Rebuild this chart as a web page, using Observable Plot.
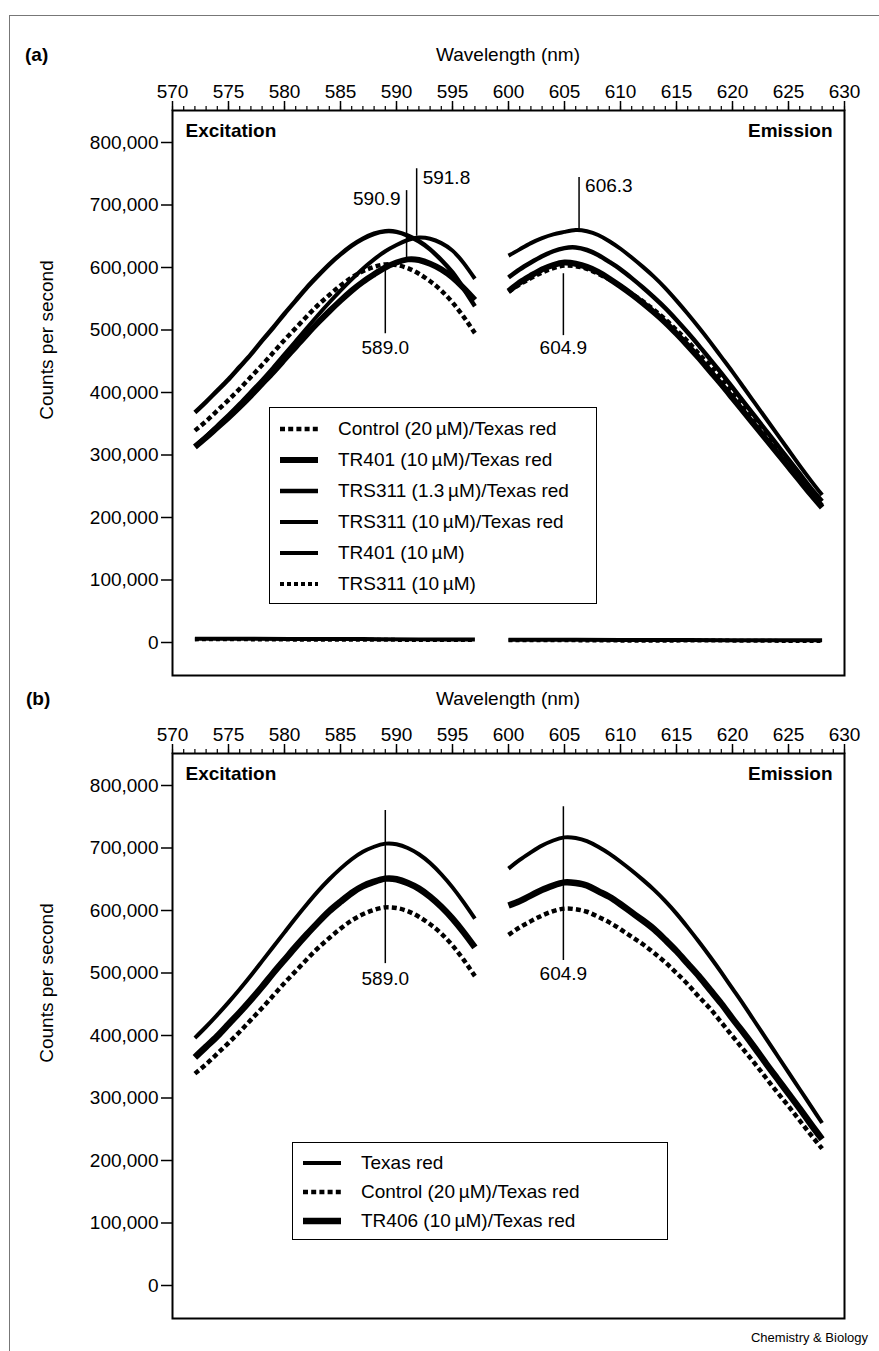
<!DOCTYPE html>
<html><head><meta charset="utf-8">
<script src="https://cdn.jsdelivr.net/npm/d3@7"></script>
<script src="https://cdn.jsdelivr.net/npm/@observablehq/plot@0.6"></script>
<style>
body{margin:0;background:#fff;font-family:"Liberation Sans",Arial,Helvetica,sans-serif;color:#000;}
#fig{position:relative;width:879px;height:1351px;overflow:hidden;background:#fff;}
.plabel{font-weight:bold;font-size:19px;}
.wl{font-size:19px;width:300px;text-align:center;}
.ylab{font-size:19px;white-space:nowrap;transform:translate(-50%,-50%) rotate(-90deg);}
.legend{border:1.5px solid #000;background:#fff;box-sizing:border-box;font-size:19px;}
.legend .row{position:absolute;left:0;display:flex;align-items:center;white-space:nowrap;}
.caption{font-size:13px;}
.border{border-top:1px solid #777;border-left:1px solid #777;}
</style></head>
<body><div id="fig"></div>
<script>
// ---------- data ----------
const xTicks = [570, 575, 580, 585, 590, 595, 600, 605, 610, 615, 620, 625, 630];
const xMinorTicks = [570,571,572,573,574,575,576,577,578,579,580,581,582,583,584,585,586,587,588,589,590,591,592,593,594,595,596,597,598,599,600,601,602,603,604,605,606,607,608,609,610,611,612,613,614,615,616,617,618,619,620,621,622,623,624,625,626,627,628,629,630];
const yTicks = [0, 100000, 200000, 300000, 400000, 500000, 600000, 700000, 800000];

const exWl = [572,573,574,575,576,577,578,579,580,581,582,583,584,585,586,587,588,589,590,591,592,593,594,595,596,597];
const emWl = [600,601,602,603,604,605,606,607,608,609,610,611,612,613,614,615,616,617,618,619,620,621,622,623,624,625,626,627,628];

// Control (20 uM)/Texas red — same sample in both panels
const controlEx = [339000,354000,371000,388000,406000,425000,444000,464000,484000,503000,522000,540000,556000,571000,584000,594000,601000,605000,604000,599000,590000,578000,563000,544000,521000,495000];
const controlEm = [561000,573000,583000,592000,599000,603000,602000,598000,590000,581000,570000,558000,546000,532000,517000,500000,482000,462000,443000,421000,399000,377000,355000,332000,309000,287000,264000,241000,219000];

// Panel (a)
const tr401trEx = [313000,328000,344000,360000,377000,395000,414000,433000,453000,473000,493000,512000,530000,547000,563000,577000,589000,600000,608000,613000,612000,606000,597000,584000,567000,548000];
const tr401trEm = [562000,576000,587000,597000,604000,608000,606000,601000,593000,582000,570000,557000,543000,528000,512000,494000,475000,455000,434000,413000,391000,369000,347000,325000,303000,281000,259000,237000,216000];
const trs13Ex = [368000,385000,403000,421000,441000,461000,483000,504000,526000,547000,568000,587000,605000,621000,635000,646000,654000,658000,657000,651000,642000,629000,612000,592000,566000,538000];
const trs13Em = [584000,597000,608000,618000,626000,631000,632000,628000,620000,609000,597000,583000,568000,552000,535000,516000,496000,475000,453000,431000,408000,385000,362000,339000,316000,293000,270000,247000,226000];
const trs10Ex = [314000,330000,347000,364000,382000,401000,420000,440000,461000,482000,503000,524000,544000,563000,581000,598000,613000,626000,636000,644000,648000,646000,639000,627000,607000,582000];
const trs10Em = [619000,629000,639000,647000,653000,657000,660000,658000,652000,642000,630000,616000,601000,585000,567000,547000,526000,504000,481000,457000,433000,408000,383000,358000,333000,308000,283000,259000,236000];
const flatExWl = [572, 577, 582, 587, 592, 597];
const flatEmWl = [600, 605, 610, 615, 620, 625, 628];
const tr401Ex = [6000, 6000, 5500, 5500, 5000, 5000];
const tr401Em = [4500, 4500, 4000, 4000, 3500, 3500, 3500];
const trs311Ex = [5000, 5000, 4500, 4500, 4000, 4000];
const trs311Em = [3500, 3500, 3000, 3000, 3000, 2500, 2500];

// Panel (b)
const texasRedEx = [396000,414000,433000,453000,474000,496000,519000,542000,565000,588000,610000,631000,650000,667000,682000,694000,702000,707000,706000,700000,690000,676000,658000,637000,613000,587000];
const texasRedEm = [667000,681000,693000,704000,712000,717000,716000,711000,702000,691000,678000,664000,649000,633000,615000,595000,573000,550000,526000,501000,475000,449000,422000,395000,368000,341000,314000,287000,260000];
const tr406Ex = [365000,382000,399000,418000,437000,457000,478000,500000,521000,542000,562000,581000,599000,614000,628000,639000,646000,651000,650000,644000,635000,622000,606000,587000,565000,541000];
const tr406Em = [608000,615000,624000,633000,640000,645000,644000,640000,631000,622000,610000,597000,584000,570000,553000,535000,515000,495000,473000,451000,427000,404000,380000,355000,331000,307000,283000,258000,234000];

// peak annotations
const annotA = [
  {x: 591.8, y1: 650000, y2: 758000, label: "591.8", ly: 744000, pos: "right"},
  {x: 590.9, y1: 613000, y2: 723000, label: "590.9", ly: 709000, pos: "left"},
  {x: 589.0, y1: 494000, y2: 597000, label: "589.0", ly: 472000, pos: "below"},
  {x: 606.3, y1: 660000, y2: 744000, label: "606.3", ly: 730000, pos: "right"},
  {x: 604.9, y1: 491000, y2: 590000, label: "604.9", ly: 472000, pos: "below"}
];
const annotB = [
  {x: 589.0, y1: 515000, y2: 760000, label: "589.0", ly: 491000, pos: "below"},
  {x: 604.9, y1: 520000, y2: 766000, label: "604.9", ly: 498000, pos: "below"}
];

// legend entries
const legendA = [
  {key: "control", text: "Control (20\u2009\u00b5M)/Texas red"},
  {key: "tr401tr", text: "TR401 (10\u2009\u00b5M)/Texas red"},
  {key: "trs13", text: "TRS311 (1.3\u2009\u00b5M)/Texas red"},
  {key: "trs10", text: "TRS311 (10\u2009\u00b5M)/Texas red"},
  {key: "tr401", text: "TR401 (10\u2009\u00b5M)"},
  {key: "trs311", text: "TRS311 (10\u2009\u00b5M)"}
];
const legendB = [
  {key: "texasRed", text: "Texas red"},
  {key: "control", text: "Control (20\u2009\u00b5M)/Texas red"},
  {key: "tr406", text: "TR406 (10\u2009\u00b5M)/Texas red"}
];

// ---------- styles ----------
const styles = {
  control: {w: 4.5, dash: "5,3.2"},
  tr401tr: {w: 6},
  trs13: {w: 4.5},
  trs10: {w: 4},
  tr401: {w: 4},
  trs311: {w: 4, dash: "4,3"},
  texasRed: {w: 4},
  tr406: {w: 6.5}
};

function rows(key, wl, vals, seg) { return wl.map((w, i) => ({key, seg, wl: w, v: vals[i]})); }

const seriesA = [
  ["tr401", flatExWl, tr401Ex, flatEmWl, tr401Em],
  ["trs311", flatExWl, trs311Ex, flatEmWl, trs311Em],
  ["tr401tr", exWl, tr401trEx, emWl, tr401trEm],
  ["trs13", exWl, trs13Ex, emWl, trs13Em],
  ["trs10", exWl, trs10Ex, emWl, trs10Em],
  ["control", exWl, controlEx, emWl, controlEm]
];
const seriesB = [
  ["texasRed", exWl, texasRedEx, emWl, texasRedEm],
  ["tr406", exWl, tr406Ex, emWl, tr406Em],
  ["control", exWl, controlEx, emWl, controlEm]
];

function panel(series, annots) {
  const lineMarks = [];
  for (const [key, xw, xv, ew, ev] of series) {
    const st = styles[key];
    const data = rows(key, xw, xv, "ex").concat(rows(key, ew, ev, "em"));
    lineMarks.push(Plot.line(data, {x: "wl", y: "v", z: "seg", stroke: "#000", strokeWidth: st.w,
      strokeDasharray: st.dash || null, curve: "natural", strokeLinecap: "butt", strokeLinejoin: "round"}));
  }
  return Plot.plot({
    width: 879, height: 680,
    marginTop: 110, marginBottom: 5, marginLeft: 172, marginRight: 35,
    x: {domain: [570, 630]},
    y: {domain: [-52800, 851200]},
    style: {fontFamily: '"Liberation Sans", Arial, Helvetica, sans-serif', fontSize: "19px", color: "#000", background: "transparent"},
    marks: [
      Plot.axisY({ticks: yTicks, tickSize: 11, tickPadding: 3, tickFormat: d3.format(","), fontSize: 19, strokeWidth: 1.5, label: null}),
      Plot.axisX({anchor: "top", ticks: xMinorTicks, tickSize: 5, tickFormat: () => "", strokeWidth: 1.2, label: null}),
      Plot.axisX({anchor: "top", ticks: xTicks, tickSize: 10, tickPadding: 3, fontSize: 19, strokeWidth: 1.5, label: null}),
      ...lineMarks,
      Plot.ruleX(annots, {x: "x", y1: "y1", y2: "y2", stroke: "#000", strokeWidth: 1.5}),
      Plot.text(annots.filter(d => d.pos === "right"), {x: "x", y: "ly", text: "label", textAnchor: "start", dx: 6, fontSize: 19}),
      Plot.text(annots.filter(d => d.pos === "left"), {x: "x", y: "ly", text: "label", textAnchor: "end", dx: -6, fontSize: 19}),
      Plot.text(annots.filter(d => d.pos === "below"), {x: "x", y: "ly", text: "label", textAnchor: "middle", fontSize: 19}),
      Plot.text(["Excitation"], {frameAnchor: "top-left", dx: 13, dy: 13, lineAnchor: "top", textAnchor: "start", fontWeight: "bold", fontSize: 19}),
      Plot.text(["Emission"], {frameAnchor: "top-right", dx: -12, dy: 13, lineAnchor: "top", textAnchor: "end", fontWeight: "bold", fontSize: 19}),
      Plot.frame({stroke: "#000", strokeWidth: 2})
    ]
  });
}

const fig = document.getElementById("fig");
function place(el, left, top) { el.style.position = "absolute"; el.style.left = left + "px"; el.style.top = top + "px"; fig.appendChild(el); return el; }
function div(cls, html) { const d = document.createElement("div"); d.className = cls; d.innerHTML = html; return d; }

// border of the scanned figure
const b = div("border", ""); b.style.width = "870px"; b.style.height = "1336px"; place(b, 9, 15);

const svgA = panel(seriesA, annotA); place(svgA, 0, 0);
const svgB = panel(seriesB, annotB); place(svgB, 0, 643);

place(div("plabel", "(a)"), 25, 44);
place(div("plabel", "(b)"), 26, 688);
place(div("wl", "Wavelength (nm)"), 358, 44);
place(div("wl", "Wavelength (nm)"), 358, 688);
place(div("ylab", "Counts per second"), 47, 340);
place(div("ylab", "Counts per second"), 47, 983);

function legend(entries, left, top, width, rowH, sampleX, textX, firstRow) {
  const box = div("legend", "");
  box.style.width = width + "px";
  box.style.height = (firstRow * 2 + rowH * (entries.length - 1)) + "px";
  entries.forEach((e, i) => {
    const st = styles[e.key];
    const r = document.createElement("div"); r.className = "row";
    r.style.top = (firstRow + rowH * i - 12) + "px"; r.style.height = "24px";
    r.style.left = sampleX + "px";
    r.innerHTML = `<svg width="${textX - sampleX}" height="24"><line x1="0" x2="38" y1="12" y2="12" stroke="#000" stroke-width="${st.w}" ${st.dash ? `stroke-dasharray="${st.dash}"` : ""}/></svg><span>${e.text}</span>`;
    box.appendChild(r);
  });
  return place(box, left, top);
}
legend(legendA, 269, 407, 328, 31, 10, 68, 21);
legend(legendB, 292, 1142, 376, 29, 10, 68, 20);

const cap = div("caption", "Chemistry &amp; Biology"); cap.style.width = "300px"; cap.style.textAlign = "right"; place(cap, 568, 1330);
</script>
</body></html>
